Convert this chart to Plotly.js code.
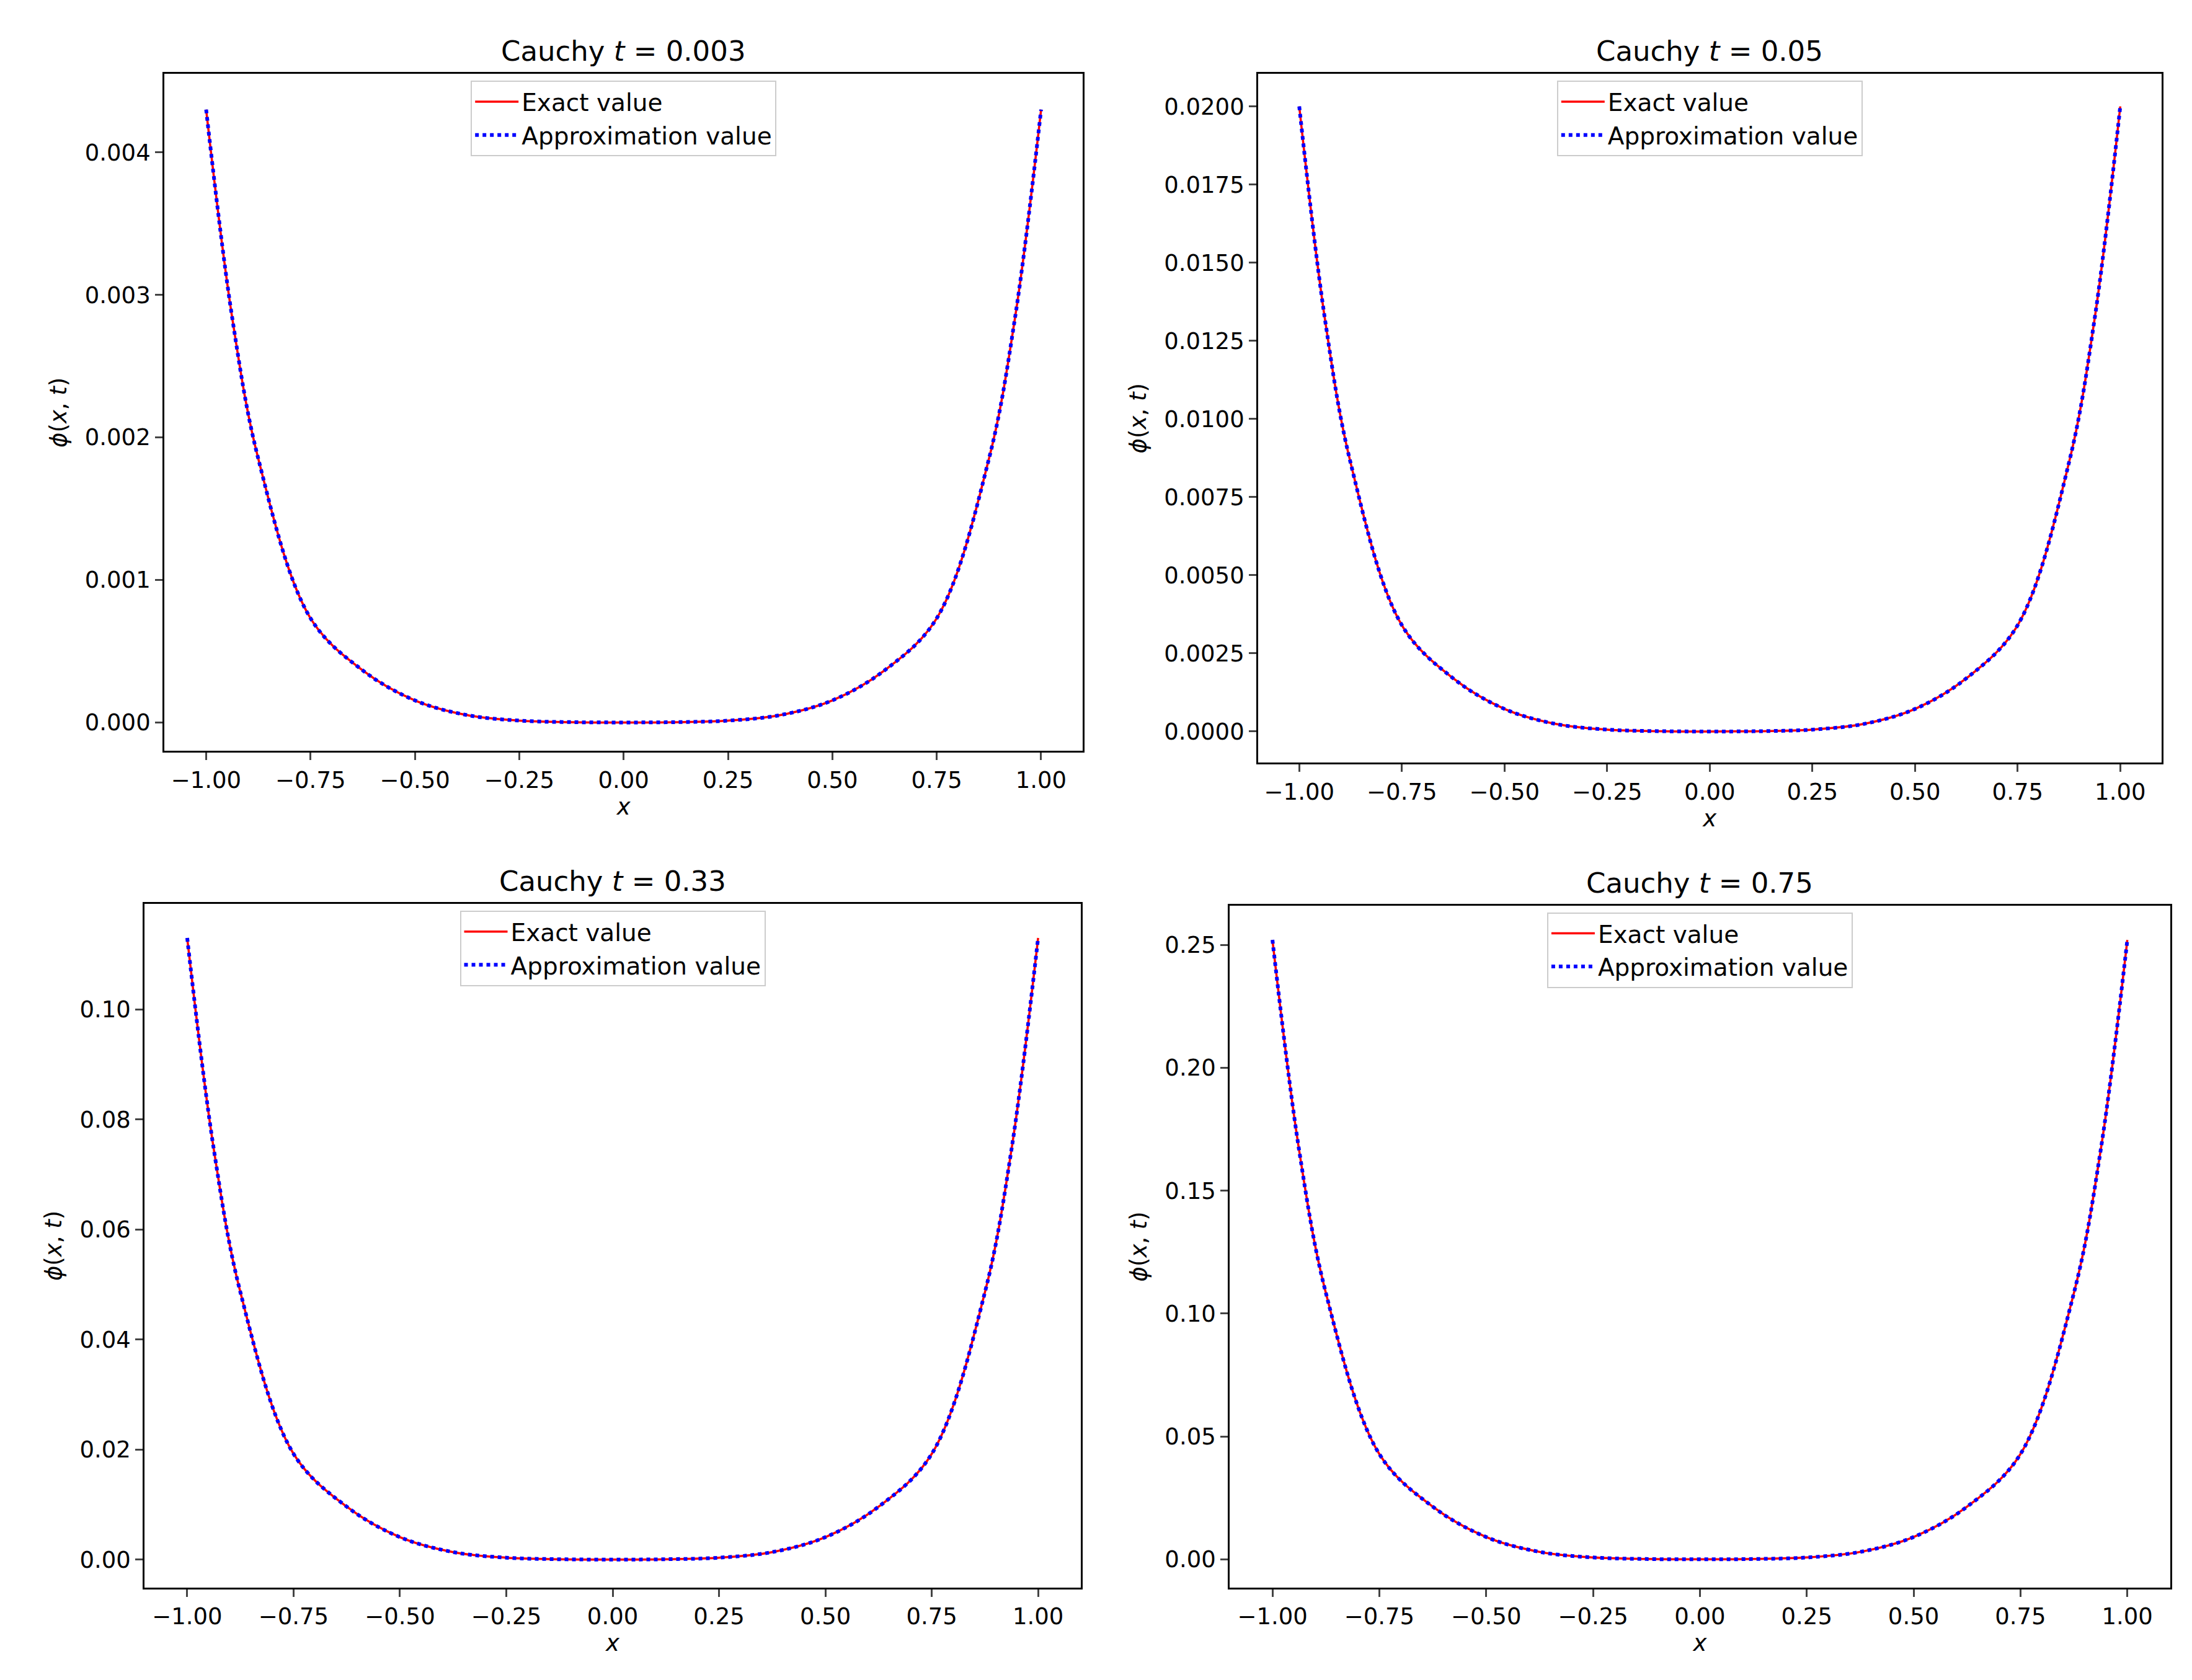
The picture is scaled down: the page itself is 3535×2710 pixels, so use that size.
<!DOCTYPE html><html><head><script src="https://cdn.plot.ly/plotly-3.0.1.min.js"></script>
<style>body{margin:0;background:#fff}</style></head><body><div id="g" style="width:3535px;height:2710px"></div><script>
const xs=[-1,-0.9375,-0.875,-0.75,-0.625,-0.5,-0.375,-0.25,-0.125,0,0.125,0.25,0.375,0.5,0.625,0.75,0.875,0.9375,1];
const shape=[1,0.66,0.43,0.17,0.085,0.036,0.012,0.003,0.0005,0,0.0005,0.003,0.012,0.036,0.085,0.17,0.43,0.66,1];
const peaks=[0.0043,0.0200,0.113,0.252];
const titles=['Cauchy <i>t</i> = 0.003','Cauchy <i>t</i> = 0.05','Cauchy <i>t</i> = 0.33','Cauchy <i>t</i> = 0.75'];
const yValues=peaks.map(p=>shape.map(s=>s*p));
const dom=[[[0.075,0.494],[0.553,0.956]],[[0.574,0.986],[0.546,0.956]],[[0.066,0.493],[0.055,0.462]],[[0.561,0.990],[0.055,0.461]]];
const yr=[[-0.0002,0.00455],[-0.001,0.02104],[-0.0051,0.1192],[-0.0115,0.266]];
const yfmt=['.3f','.4f','.2f','.2f'];
const ydt=[0.001,0.0025,0.02,0.05];
const F='DejaVu Sans';
let data=[],layout={width:3535,height:2710,margin:{l:0,r:0,t:0,b:0},paper_bgcolor:'#fff',plot_bgcolor:'#fff',font:{family:F,size:36,color:'#000'},annotations:[]};
for(let i=0;i<4;i++){
 const s=i?String(i+1):'';const lg=i?'legend'+(i+1):'legend';
 data.push({x:xs,y:yValues[i],xaxis:'x'+s,yaxis:'y'+s,mode:'lines',line:{color:'red',width:3.5,shape:'spline'},name:'Exact value',legend:lg});
 data.push({x:xs,y:yValues[i],xaxis:'x'+s,yaxis:'y'+s,mode:'lines',line:{color:'blue',width:6,dash:'dot',shape:'spline'},name:'Approximation value',legend:lg});
 const ax={showgrid:false,zeroline:false,showline:true,mirror:true,linecolor:'#000',linewidth:3,ticks:'outside',ticklen:12,tickwidth:2.5,tickfont:{family:F,size:37}};
 layout['xaxis'+s]=Object.assign({},ax,{domain:dom[i][0],anchor:'y'+s,range:[-1.1,1.1],dtick:0.25,tickformat:'.2f',title:{text:'<i>x</i>',font:{size:37},standoff:4}});
 layout['yaxis'+s]=Object.assign({},ax,{domain:dom[i][1],anchor:'x'+s,range:yr[i],dtick:ydt[i],tick0:0,tickformat:yfmt[i],title:{text:'<i>ϕ</i>(<i>x</i>, <i>t</i>)',font:{size:37},standoff:18}});
 const cx=(dom[i][0][0]+dom[i][0][1])/2;
 layout[lg]={x:cx,xanchor:'center',y:dom[i][1][1]-0.004,yanchor:'top',bordercolor:'#ccc',borderwidth:2,bgcolor:'rgba(255,255,255,0.8)',itemwidth:70,font:{family:F,size:39}};
 layout.annotations.push({text:titles[i],x:cx,y:dom[i][1][1],xref:'paper',yref:'paper',xanchor:'center',yanchor:'bottom',yshift:8,showarrow:false,font:{family:F,size:45}});
}
Plotly.newPlot('g',data,layout,{displayModeBar:false});
</script></body></html>
